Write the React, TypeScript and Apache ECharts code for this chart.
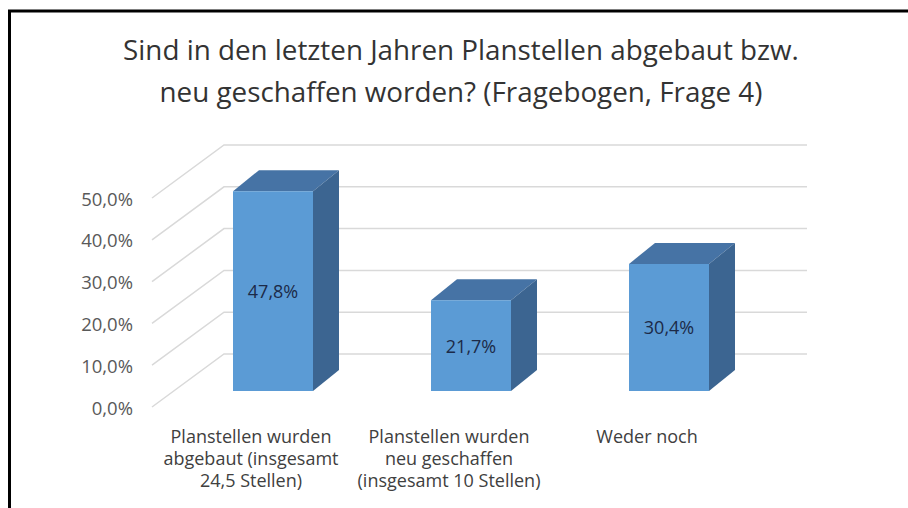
import React, { useEffect, useRef } from "react";
import * as echarts from "echarts";

const titleLines = [
  "Sind in den letzten Jahren Planstellen abgebaut bzw.",
  "neu geschaffen worden? (Fragebogen, Frage 4)",
];
const categories = [
  "Planstellen wurden\nabgebaut (insgesamt\n24,5 Stellen)",
  "Planstellen wurden\nneu geschaffen\n(insgesamt 10 Stellen)",
  "Weder noch",
];
const values = [47.8, 21.7, 30.4];
const yTicks = [0, 10, 20, 30, 40, 50];

const FONT = "Open Sans";
const FLOOR_DX = 72;
const FLOOR_DY = -53;
const BAR_SHIFT_X = 22;
const BAR_SHIFT_Y = -16;
const BAR_DX = 26;
const BAR_DY = -21;
const BAR_W = 80;
const FRONT = "#5b9bd5";
const TOP = "#4673a5";
const SIDE = "#3c6591";

const fmt = (v: number) => v.toFixed(1).replace(".", ",") + "%";

export default function App() {
  const ref = useRef<HTMLDivElement>(null);
  useEffect(() => {
    if (!ref.current) return;
    const chart = echarts.init(ref.current, null, { renderer: "svg" });
    chart.setOption({
      animation: false,
      backgroundColor: "#ffffff",
      title: {
        text: titleLines.join("\n"),
        left: 456,
        textAlign: "center",
        top: 23,
        textStyle: {
          fontFamily: FONT,
          fontSize: 27.8,
          lineHeight: 42,
          fontWeight: "normal",
          color: "#333333",
        },
      },
      grid: { left: 152, right: 162, top: 198, bottom: 101 },
      xAxis: {
        type: "category",
        data: categories,
        axisLine: { show: false },
        axisTick: { show: false },
        axisLabel: {
          interval: 0,
          margin: 18,
          fontFamily: FONT,
          fontSize: 18,
          lineHeight: 22,
          color: "#404040",
          align: "center",
        },
      },
      yAxis: {
        type: "value",
        min: 0,
        max: 50,
        interval: 10,
        axisLine: { show: false },
        axisTick: { show: false },
        splitLine: { show: false },
        axisLabel: {
          margin: 19,
          fontFamily: FONT,
          fontSize: 18.5,
          color: "#595959",
          formatter: (v: number) => fmt(v),
        },
      },
      graphic: [
        {
          type: "polyline",
          shape: { points: [[9.5, 508], [9.5, 11], [908, 11]] },
          style: { stroke: "#000", lineWidth: 3, fill: "none" },
          z: 100,
        },
      ],
      series: [
        {
          type: "custom",
          z: 1,
          silent: true,
          data: yTicks.map((v) => [0, v]),
          renderItem: (params: any, api: any) => {
            const cs = params.coordSys;
            const y = api.coord([0, api.value(1)])[1];
            const gx = cs.x;
            return {
              type: "polyline",
              shape: {
                points: [
                  [gx, y],
                  [gx + FLOOR_DX, y + FLOOR_DY],
                  [gx + cs.width + 61, y + FLOOR_DY],
                ],
              },
              style: { stroke: "#d9d9d9", lineWidth: 1.5, fill: "none" },
            };
          },
        },
        {
          type: "custom",
          z: 2,
          data: values.map((v, i) => [i, v]),
          renderItem: (params: any, api: any) => {
            const idx = api.value(0);
            const v = api.value(1);
            const top = api.coord([idx, v]);
            const base = api.coord([idx, 0]);
            const cx = top[0] + BAR_SHIFT_X;
            const yT = top[1] + BAR_SHIFT_Y;
            const yB = base[1] + BAR_SHIFT_Y;
            const x0 = cx - BAR_W / 2;
            const x1 = cx + BAR_W / 2;
            return {
              type: "group",
              children: [
                {
                  type: "polygon",
                  shape: {
                    points: [
                      [x0, yT],
                      [x1, yT],
                      [x1 + BAR_DX, yT + BAR_DY],
                      [x0 + BAR_DX, yT + BAR_DY],
                    ],
                  },
                  style: { fill: TOP },
                },
                {
                  type: "polygon",
                  shape: {
                    points: [
                      [x1, yT],
                      [x1 + BAR_DX, yT + BAR_DY],
                      [x1 + BAR_DX, yB + BAR_DY],
                      [x1, yB],
                    ],
                  },
                  style: { fill: SIDE },
                },
                {
                  type: "rect",
                  shape: { x: x0, y: yT, width: BAR_W, height: yB - yT },
                  style: { fill: FRONT },
                },
                {
                  type: "text",
                  x: cx,
                  y: (yT + yB) / 2,
                  style: {
                    text: fmt(v),
                    align: "center",
                    verticalAlign: "middle",
                    fill: "#1c2a48",
                    fontFamily: FONT,
                    fontSize: 18,
                  },
                },
              ],
            };
          },
        },
      ],
    });
    return () => chart.dispose();
  }, []);
  return (
    <div
      ref={ref}
      style={{ position: "fixed", left: 0, top: 0, width: 908, height: 508 }}
    />
  );
}
